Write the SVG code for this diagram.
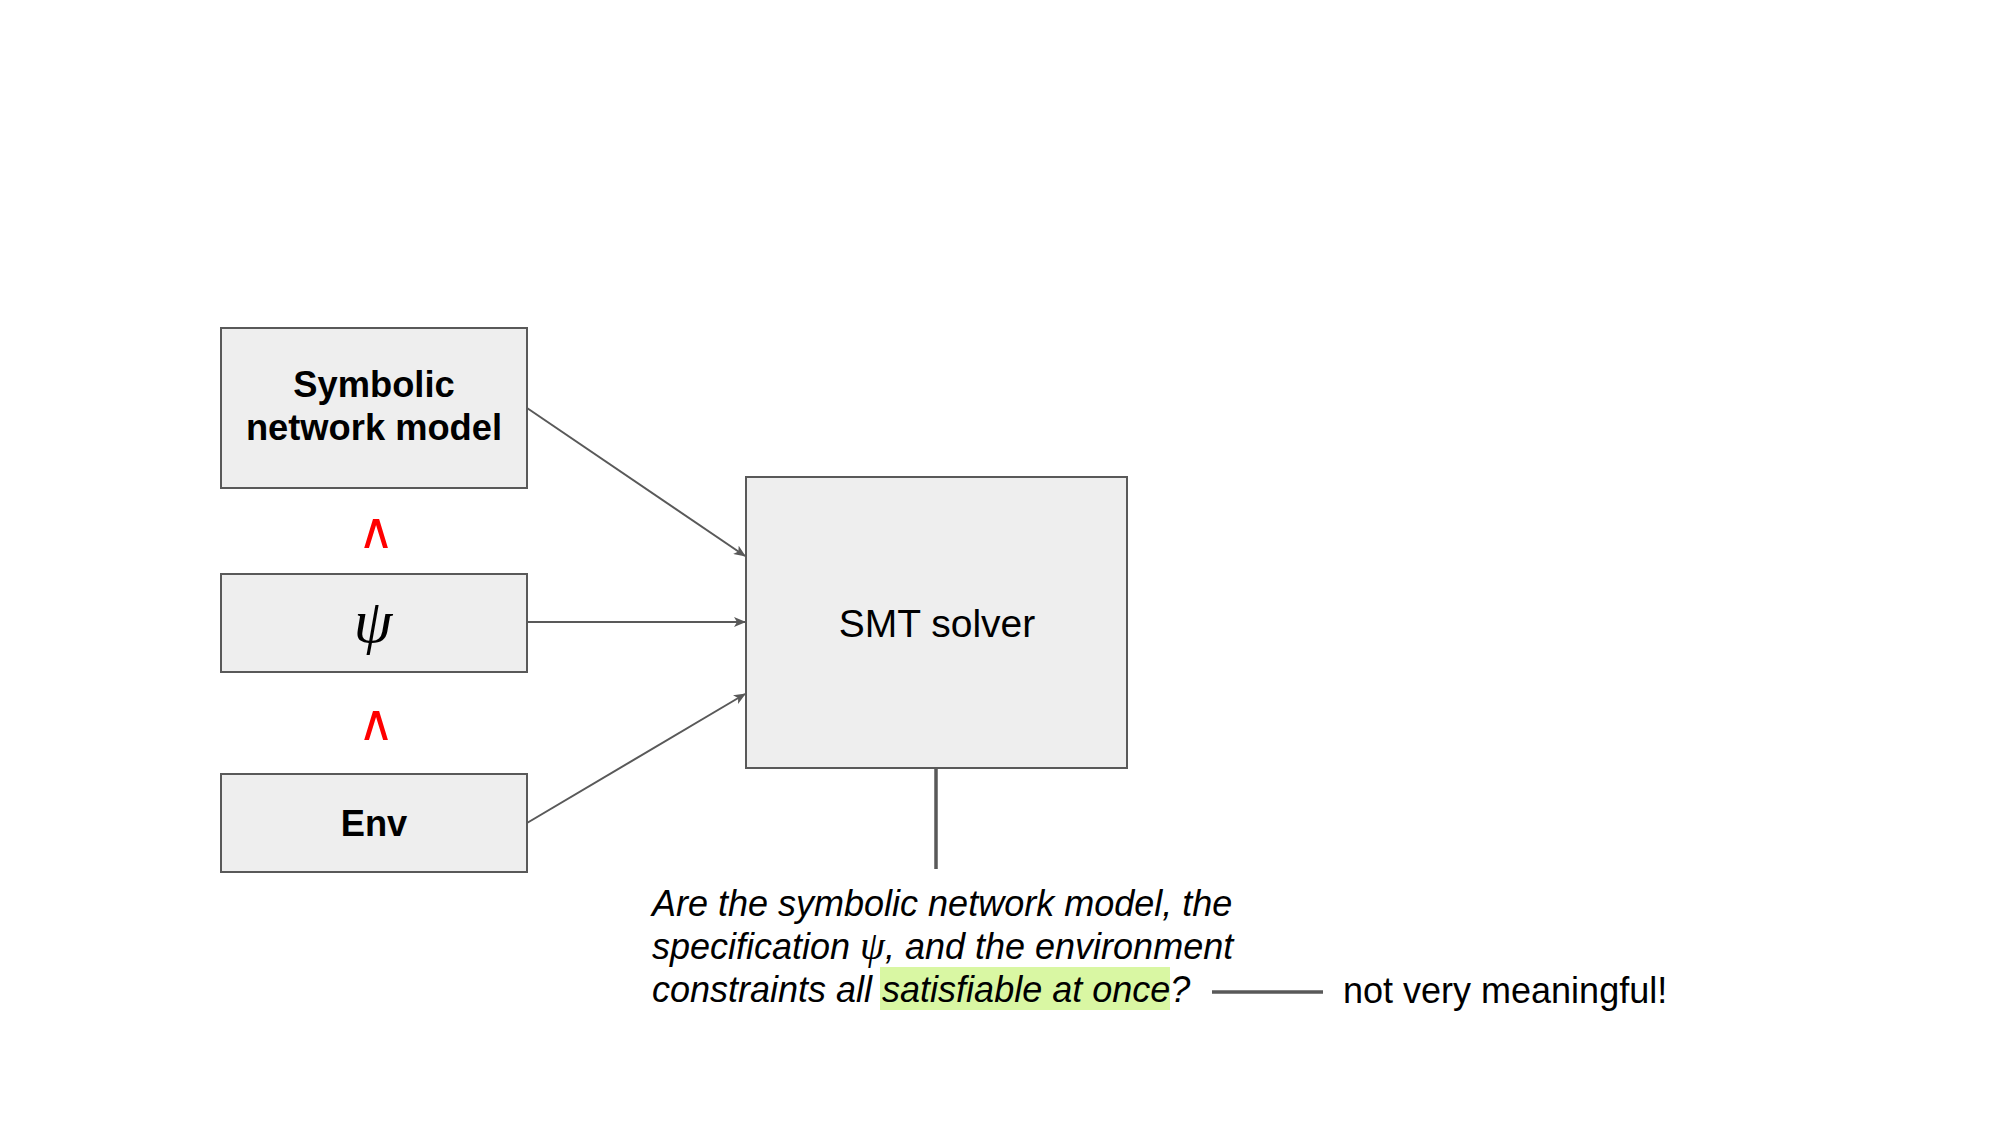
<svg xmlns="http://www.w3.org/2000/svg" width="2000" height="1125" viewBox="0 0 2000 1125">
<style>
.box{fill:#eeeeee;stroke:#595959;stroke-width:2}
.bold{font-family:"Liberation Sans",Arial,sans-serif;font-weight:bold;font-size:36.3px;fill:#000;text-anchor:middle}
.reg{font-family:"Liberation Sans",Arial,sans-serif;font-size:39px;fill:#000;text-anchor:middle}
.ital{font-family:"Liberation Sans",Arial,sans-serif;font-style:italic;font-size:36px;fill:#000}
.note{font-family:"Liberation Sans",Arial,sans-serif;font-size:36px;fill:#000}
.psi{font-family:"Liberation Serif","Times New Roman",serif;font-style:italic}
.and{font-family:"DejaVu Sans",sans-serif;font-size:50px;fill:#ff0000;text-anchor:middle}
.conn{stroke:#595959;stroke-width:2;fill:none}
.thick{stroke:#595959;stroke-width:3.5;fill:none}
</style>
<defs>
<marker id="arr" markerWidth="12" markerHeight="10" refX="11" refY="5" orient="auto" markerUnits="userSpaceOnUse">
<path d="M0,0 L12,5 L0,10 L3,5 z" fill="#595959"/>
</marker>
</defs>
<rect width="2000" height="1125" fill="#ffffff"/>
<g id="node-symbolic">
<rect class="box" x="221" y="328" width="306" height="160"/>
<text class="bold" x="374" y="397">Symbolic</text>
<text class="bold" x="374" y="440">network model</text>
</g>
<g id="and-1"><text class="and" x="376" y="548">∧</text></g>
<g id="node-psi">
<rect class="box" x="221" y="574" width="306" height="98"/>
<text class="psi" x="373" y="642" font-size="62" text-anchor="middle">ψ</text>
</g>
<g id="and-2"><text class="and" x="376" y="740">∧</text></g>
<g id="node-env">
<rect class="box" x="221" y="774" width="306" height="98"/>
<text class="bold" x="374" y="836">Env</text>
</g>
<g id="node-smt">
<rect class="box" x="746" y="477" width="381" height="291"/>
<text class="reg" x="937" y="637">SMT solver</text>
</g>
<g id="connectors">
<line class="conn" x1="527" y1="408" x2="745" y2="556" marker-end="url(#arr)"/>
<line class="conn" x1="527" y1="622" x2="745" y2="622" marker-end="url(#arr)"/>
<line class="conn" x1="527" y1="823" x2="745" y2="694" marker-end="url(#arr)"/>
<line class="thick" x1="936" y1="768" x2="936" y2="869"/>
<line class="thick" x1="1212" y1="992" x2="1323" y2="992"/>
</g>
<g id="question">
<rect x="880" y="967" width="290" height="43" fill="#d9f7a3"/>
<text class="ital" x="652" y="916">Are the symbolic network model, the</text>
<text class="ital" x="652" y="959">specification <tspan class="psi" font-size="40">ψ</tspan>, and the environment</text>
<text class="ital" x="652" y="1002">constraints all satisfiable at once?</text>
</g>
<g id="note">
<text class="note" x="1343" y="1003">not very meaningful!</text>
</g>
</svg>
